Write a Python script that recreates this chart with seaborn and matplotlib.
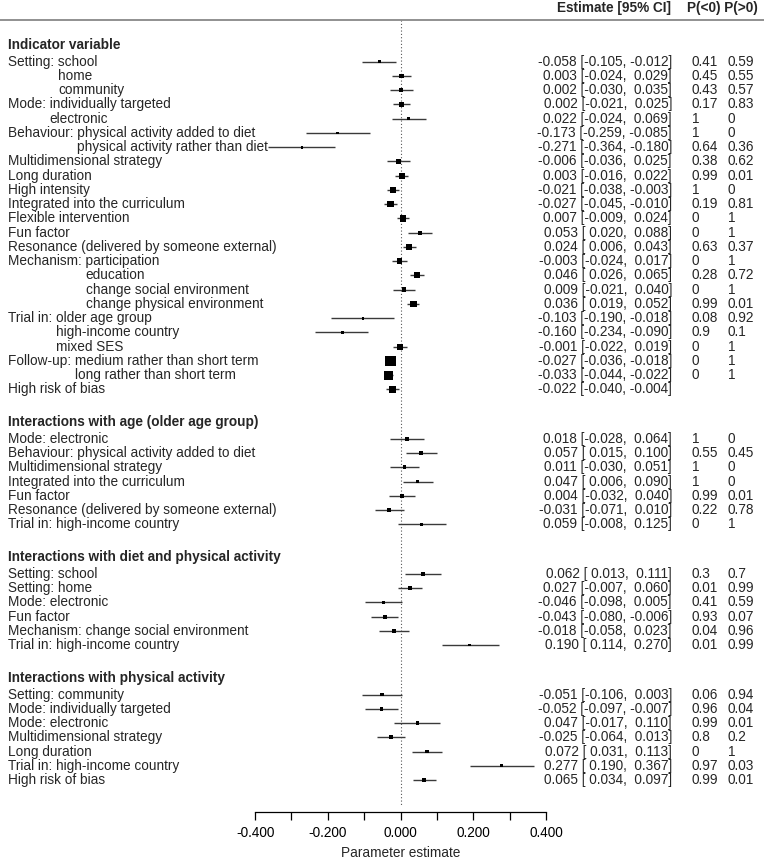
import matplotlib
matplotlib.use("Agg")
import matplotlib.pyplot as plt
import seaborn as sns
import numpy as np
import pandas as pd

# ---------------- data ----------------
section_titles = [
    "Indicator variable",
    "Interactions with age (older age group)",
    "Interactions with diet and physical activity",
    "Interactions with physical activity",
]

s1_labels = [
    "Setting: school", "home", "community",
    "Mode: individually targeted", "electronic",
    "Behaviour: physical activity added to diet", "physical activity rather than diet",
    "Multidimensional strategy", "Long duration", "High intensity",
    "Integrated into the curriculum", "Flexible intervention", "Fun factor",
    "Resonance (delivered by someone external)",
    "Mechanism: participation", "education", "change social environment",
    "change physical environment",
    "Trial in: older age group", "high-income country", "mixed SES",
    "Follow-up: medium rather than short term", "long rather than short term",
    "High risk of bias",
]
s1_cont = [0, 1, 1, 0, 1, 0, 1, 0, 0, 0, 0, 0, 0, 0, 0, 1, 1, 1, 0, 1, 1, 0, 1, 0]
s1_est = [-0.058, 0.003, 0.002, 0.002, 0.022, -0.173, -0.271, -0.006, 0.003, -0.021,
          -0.027, 0.007, 0.053, 0.024, -0.003, 0.046, 0.009, 0.036, -0.103, -0.160,
          -0.001, -0.027, -0.033, -0.022]
s1_lo = [-0.105, -0.024, -0.030, -0.021, -0.024, -0.259, -0.364, -0.036, -0.016, -0.038,
         -0.045, -0.009, 0.020, 0.006, -0.024, 0.026, -0.021, 0.019, -0.190, -0.234,
         -0.022, -0.036, -0.044, -0.040]
s1_hi = [-0.012, 0.029, 0.035, 0.025, 0.069, -0.085, -0.180, 0.025, 0.022, -0.003,
         -0.010, 0.024, 0.088, 0.043, 0.017, 0.065, 0.040, 0.052, -0.018, -0.090,
         0.019, -0.018, -0.022, -0.004]
s1_pneg = ["0.41", "0.45", "0.43", "0.17", "1", "1", "0.64", "0.38", "0.99", "1",
           "0.19", "0", "0", "0.63", "0", "0.28", "0", "0.99", "0.08", "0.9",
           "0", "0", "0", ""]
s1_ppos = ["0.59", "0.55", "0.57", "0.83", "0", "0", "0.36", "0.62", "0.01", "0",
           "0.81", "1", "1", "0.37", "1", "0.72", "1", "0.01", "0.92", "0.1",
           "1", "1", "1", ""]

s2_labels = [
    "Mode: electronic", "Behaviour: physical activity added to diet",
    "Multidimensional strategy", "Integrated into the curriculum", "Fun factor",
    "Resonance (delivered by someone external)", "Trial in: high-income country",
]
s2_cont = [0, 0, 0, 0, 0, 0, 0]
s2_est = [0.018, 0.057, 0.011, 0.047, 0.004, -0.031, 0.059]
s2_lo = [-0.028, 0.015, -0.030, 0.006, -0.032, -0.071, -0.008]
s2_hi = [0.064, 0.100, 0.051, 0.090, 0.040, 0.010, 0.125]
s2_pneg = ["1", "0.55", "1", "1", "0.99", "0.22", "0"]
s2_ppos = ["0", "0.45", "0", "0", "0.01", "0.78", "1"]

s3_labels = [
    "Setting: school", "Setting: home", "Mode: electronic", "Fun factor",
    "Mechanism: change social environment", "Trial in: high-income country",
]
s3_cont = [0, 0, 0, 0, 0, 0]
s3_est = [0.062, 0.027, -0.046, -0.043, -0.018, 0.190]
s3_lo = [0.013, -0.007, -0.098, -0.080, -0.058, 0.114]
s3_hi = [0.111, 0.060, 0.005, -0.006, 0.023, 0.270]
s3_pneg = ["0.3", "0.01", "0.41", "0.93", "0.04", "0.01"]
s3_ppos = ["0.7", "0.99", "0.59", "0.07", "0.96", "0.99"]

s4_labels = [
    "Setting: community", "Mode: individually targeted", "Mode: electronic",
    "Multidimensional strategy", "Long duration", "Trial in: high-income country",
    "High risk of bias",
]
s4_cont = [0, 0, 0, 0, 0, 0, 0]
s4_est = [-0.051, -0.052, 0.047, -0.025, 0.072, 0.277, 0.065]
s4_lo = [-0.106, -0.097, -0.017, -0.064, 0.031, 0.190, 0.034]
s4_hi = [0.003, -0.007, 0.110, 0.013, 0.113, 0.367, 0.097]
s4_pneg = ["0.06", "0.96", "0.99", "0.8", "0", "0.97", "0.99"]
s4_ppos = ["0.94", "0.04", "0.01", "0.2", "1", "0.03", "0.01"]

x_ticks = [-0.4, -0.3, -0.2, -0.1, 0.0, 0.1, 0.2, 0.3, 0.4]

# ---------------- build table ----------------
sections = [
    (s1_labels, s1_cont, s1_est, s1_lo, s1_hi, s1_pneg, s1_ppos),
    (s2_labels, s2_cont, s2_est, s2_lo, s2_hi, s2_pneg, s2_ppos),
    (s3_labels, s3_cont, s3_est, s3_lo, s3_hi, s3_pneg, s3_ppos),
    (s4_labels, s4_cont, s4_est, s4_lo, s4_hi, s4_pneg, s4_ppos),
]
rows = []
header_y = []
cursor = 0.0
for si, (lab, cont, est, lo, hi, pn, pp) in enumerate(sections):
    header_y.append(cursor)
    first = cursor + 1.17
    for i in range(len(lab)):
        rows.append(dict(section=si, label=lab[i], cont=cont[i], est=est[i],
                         lo=lo[i], hi=hi[i], pneg=pn[i], ppos=pp[i], y=first + i))
    cursor = first + len(lab) - 1 + 2.3
df = pd.DataFrame(rows)

# square size from precision (inverse CI width)
side_px = 1.8 + 0.16 / (df["hi"] - df["lo"])
df["area"] = (side_px * 0.72) ** 2

# ---------------- figure ----------------
sns.set_style("white")
plt.rcParams["font.family"] = ["Liberation Sans", "DejaVu Sans"]
FS = 9.8
W, H = 764, 861
PX = 14.25          # pixels per row
Y0 = 45.0           # pixel of first header
ZERO_PX = 400.5
UNIT_PX = 363.5

fig = plt.figure(figsize=(W / 100, H / 100), dpi=100)
ax = fig.add_axes([0, 0, 1, 1])
ax.set_xlim(-ZERO_PX / UNIT_PX, (W - ZERO_PX) / UNIT_PX)

def py(p):
    return (p - Y0) / PX

# CI lines and squares
ax.hlines(df["y"], df["lo"], df["hi"], color="#3a3a3a", lw=1.0, zorder=2)
amin, amax = df["area"].min(), df["area"].max()
sns.scatterplot(data=df, x="est", y="y", size="area", sizes=(amin, amax),
                size_norm=(amin, amax), marker="s", color="black", linewidth=0,
                legend=False, ax=ax, zorder=3)
ax.set_xlabel("")
ax.set_ylabel("")

# reference line and top rule
ax.vlines(0, py(20), py(806), color="#555555", lw=0.8, linestyles=(0, (1, 2)), zorder=1)
ax.axhline(py(20), color="#888888", lw=1.3)

ax.set_ylim(py(H), py(0))

trans = ax.get_yaxis_transform()  # x in axes fraction, y in data
renderer = fig.canvas.get_renderer()

def text_width(s, **kw):
    t = ax.text(0, 0, s, fontsize=FS, **kw)
    w = t.get_window_extent(renderer).width
    t.remove()
    return w

# headers
ax.text(671 / W, py(8), "Estimate [95% CI]", transform=trans, ha="right", va="center",
        fontsize=FS, fontweight="bold")
ax.text(687 / W, py(8), "P(<0) P(>0)", transform=trans, ha="left", va="center",
        fontsize=FS, fontweight="bold")
for si, title in enumerate(section_titles):
    ax.text(8 / W, header_y[si], title, transform=trans, ha="left", va="center",
            fontsize=FS, fontweight="bold")

indent = 0.0
for _, r in df.iterrows():
    if r["cont"]:
        x = 8 + indent
    else:
        x = 8
        if ": " in r["label"]:
            suffix = r["label"].split(": ", 1)[1]
            indent = text_width(r["label"]) - text_width(suffix)
        else:
            indent = 0.0
    ax.text(x / W, r["y"], r["label"], transform=trans, ha="left", va="center", fontsize=FS)
    est_str = f"{r['est']:.3f} [{r['lo']:6.3f}, {r['hi']:6.3f}]"
    ax.text(672 / W, r["y"], est_str, transform=trans, ha="right", va="center", fontsize=FS)
    ax.text(692 / W, r["y"], r["pneg"], transform=trans, ha="left", va="center", fontsize=FS)
    ax.text(728 / W, r["y"], r["ppos"], transform=trans, ha="left", va="center", fontsize=FS)

# x axis
for s in ["left", "right", "top"]:
    ax.spines[s].set_visible(False)
ax.spines["bottom"].set_position(("data", py(811.7)))
ax.spines["bottom"].set_bounds(-0.4, 0.4)
ax.spines["bottom"].set_color("black")
ax.spines["bottom"].set_linewidth(0.9)
ax.set_xticks(x_ticks)
ax.set_xticklabels([f"{v:.3f}" if i % 2 == 0 else "" for i, v in enumerate(x_ticks)])
ax.tick_params(axis="x", direction="out", length=5.4, width=0.9, pad=5,
               labelsize=FS, colors="black", bottom=True)
ax.set_yticks([])
fig.text(ZERO_PX / W, 1 - 853 / H, "Parameter estimate", ha="center", va="center", fontsize=FS)

fig.savefig("out.png", dpi=100)
